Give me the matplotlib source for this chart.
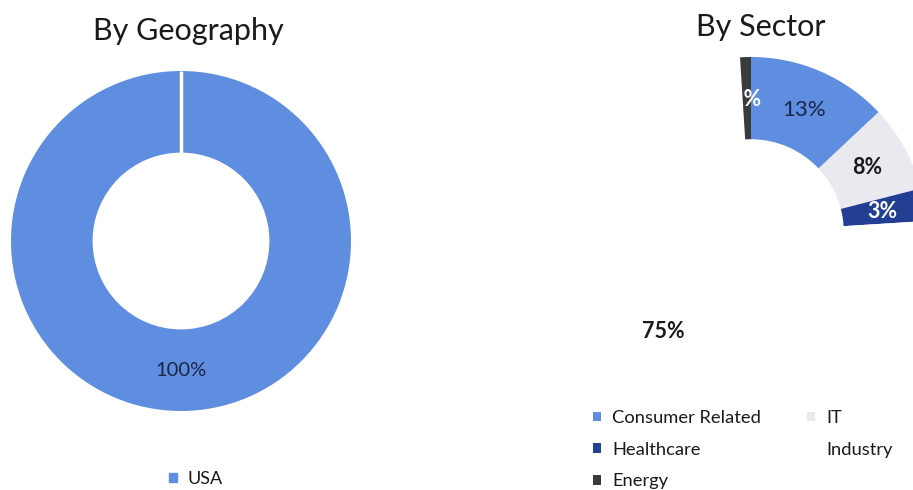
import numpy as np
import matplotlib.pyplot as plt
from matplotlib.patches import Patch

# Data
geo_labels = ['USA']
geo_values = [100]
geo_colors = ['#5f8ee0']

sector_labels = ['Consumer Related', 'IT', 'Healthcare', 'Industry', 'Energy']
sector_values = [13, 8, 3, 75, 1]
sector_colors = ['#5f8ee0', '#e9e9ef', '#223f94', '#ffffff', '#3a3a3a']
sector_text_colors = ['#1c2448', '#1a1a1a', '#ffffff', '#1a1a1a', '#ffffff']

plt.rcParams['font.family'] = ['Lato', 'DejaVu Sans']

W, H = 913, 490
fig = plt.figure(figsize=(W / 100, H / 100), dpi=100)


def px_axes(cx, cy, r):
    """axes square of radius r (px) centred at cx, cy (px from top-left)"""
    return fig.add_axes([(cx - r) / W, (H - cy - r) / H, 2 * r / W, 2 * r / H])


# --- By Geography ---
ax1 = px_axes(181, 241, 170)
w1, t1, a1 = ax1.pie(geo_values, colors=geo_colors, startangle=90, counterclock=False,
                     autopct='%d%%', pctdistance=0.76,
                     wedgeprops=dict(width=0.48, linewidth=0))
for t in a1:
    t.set_fontsize(14.5)
    t.set_color('#1c2448')
# white seam where the single slice starts
ang = np.deg2rad(w1[0].theta2)
ax1.plot([0.52 * np.cos(ang), np.cos(ang)], [0.52 * np.sin(ang), np.sin(ang)],
         color='white', lw=2.5, solid_capstyle='butt')
ax1.set_xlim(-1, 1)
ax1.set_ylim(-1, 1)
ax1.set_aspect('equal')
ax1.axis('off')
fig.text(188 / W, 1 - 31 / H, 'By Geography', fontsize=22, ha='center', va='center', color='#1a1a1a')

fig.legend(handles=[Patch(color=c, label=l) for l, c in zip(geo_labels, geo_colors)],
           loc='center', bbox_to_anchor=(196 / W, 1 - 479 / H), frameon=False,
           fontsize=13, handlelength=0.45, handleheight=0.45, handletextpad=0.6,
           labelcolor='#1a1a1a')

# --- By Sector ---
ax2 = px_axes(751, 232, 175)
w2, t2, a2 = ax2.pie(sector_values, colors=sector_colors, startangle=90, counterclock=False,
                     autopct='%d%%', pctdistance=0.76,
                     wedgeprops=dict(width=0.47, linewidth=0))
for t, c in zip(a2, sector_text_colors):
    t.set_fontsize(15.5)
    t.set_color(c)
    t.set_fontweight('bold')
a2[0].set_fontweight('normal')
a2[0].set_fontsize(16)
ax2.set_xlim(-1, 1)
ax2.set_ylim(-1, 1)
ax2.set_aspect('equal')
ax2.axis('off')
fig.text(761 / W, 1 - 27 / H, 'By Sector', fontsize=22, ha='center', va='center', color='#1a1a1a')

# legend fills column-wise, so reorder to read row-wise
order = [0, 2, 4, 1, 3]
handles = [Patch(facecolor=sector_colors[i], edgecolor='none', label=sector_labels[i]) for i in order]
fig.legend(handles=handles, loc='upper left', bbox_to_anchor=(593 / W, 1 - 410 / H),
           ncol=2, frameon=False, fontsize=13.2, handlelength=0.45, handleheight=0.45,
           handletextpad=0.6, columnspacing=2.5, labelspacing=0.85,
           borderpad=0, borderaxespad=0, labelcolor='#1a1a1a')

fig.savefig('out.png', dpi=100)
